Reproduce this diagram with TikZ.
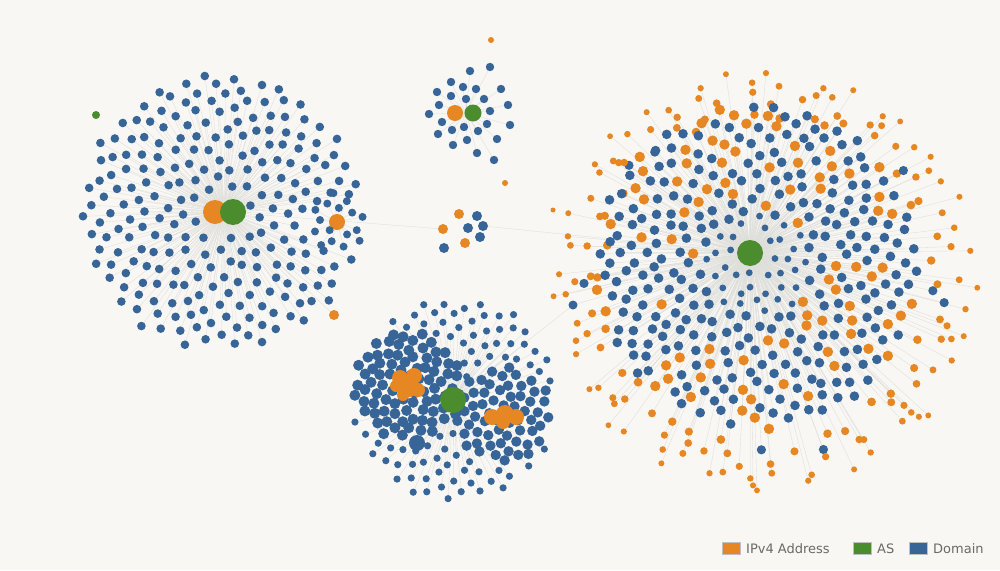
\documentclass[tikz,border=0pt]{standalone}
\usepackage{fontspec}
\setmainfont{DejaVu Sans}
\definecolor{bgc}{RGB}{248,247,243}
\definecolor{ipv}{RGB}{230,135,35}
\definecolor{asg}{RGB}{74,140,46}
\definecolor{dom}{RGB}{55,101,152}
\definecolor{edgec}{RGB}{222,222,218}
\definecolor{legtxt}{RGB}{105,105,105}
\tikzset{
  edgeline/.style={draw=edgec, line width=0.35pt},
  hub/.style={circle, inner sep=0pt},
  legbox/.style={draw=black!25, line width=0.4pt, minimum width=18pt, minimum height=12pt, inner sep=0pt},
  legtext/.style={text=legtxt, font=\fontsize{13}{15}\selectfont, anchor=base west, inner sep=0pt},
}
% #1 = 0 : edges, 1 : dots
\newcommand\clusterBouter[1]{%
  \pgfmathsetseed{11}%
  \foreach \n in {1,...,145}{
    \pgfmathsetmacro\rr{100*sqrt(2.6244+0.0128*\n)}
    \pgfmathsetmacro\ang{360*frac(\n*0.381966)+6*rand}
    \pgfmathsetmacro\px{765+\rr*cos(\ang)+2.5*rand}
    \pgfmathsetmacro\py{280+\rr*sin(\ang)+2.5*rand}
    \pgfmathsetmacro\dr{4.4-1.5*(\rr-162)/50}
    \pgfmathtruncatemacro\isor{(\rr>185)+(rnd<0.8)}
    \ifnum#1=0 \draw[edgeline] (hubB) -- (\px,\py);
    \else
      \ifnum\isor>0 \fill[ipv] (\px,\py) circle[radius=\dr pt];
      \else \fill[dom] (\px,\py) circle[radius=4.6pt];\fi
    \fi
  }}
\newcommand\clusterBinner[1]{%
  \pgfmathsetseed{12}%
  \foreach \n in {1,...,380}{
    \pgfmathsetmacro\rr{8.3*sqrt(\n)}
    \pgfmathsetmacro\ang{360*frac(\n*0.381966)}
    \pgfmathsetmacro\px{757+\rr*cos(\ang)+2.5*rand}
    \pgfmathsetmacro\py{266+\rr*sin(\ang)+2.5*rand}
    \pgfmathtruncatemacro\near{veclen((\px-750)/100,(\py-253)/100)<0.18}
    \pgfmathtruncatemacro\isor{(\rr>50)*(rnd<(0.2+0.1*(\rr-50)/112))}
    \ifnum\near=0
      \ifnum#1=0 \draw[edgeline] (hubB) -- (\px,\py);
      \else
        \ifdim\rr pt<52pt
          \fill[dom] (\px,\py) circle[radius=3.4pt];
        \else
          \ifnum\isor=1
            \fill[ipv] (\px,\py) circle[radius=5.2pt];
          \else
            \fill[dom] (\px,\py) circle[radius=4.8pt];
          \fi
        \fi
      \fi
    \fi
  }}
\newcommand\clusterA[1]{%
  \pgfmathsetseed{13}%
  \foreach \n in {1,...,250}{
    \pgfmathsetmacro\rr{8.8*sqrt(\n)}
    \pgfmathsetmacro\ang{360*frac(\n*0.381966)}
    \pgfmathsetmacro\px{221+\rr*cos(\ang)+2*rand}
    \pgfmathsetmacro\py{212+\rr*sin(\ang)+2*rand}
    \pgfmathtruncatemacro\near{(veclen((\px-224)/100,(\py-212)/100)<0.24)+(veclen((\px-337)/100,(\py-222)/100)<0.27)}
    \ifnum\near=0
      \ifnum#1=0 \draw[edgeline] (hubA) -- (\px,\py);
      \else \fill[dom] (\px,\py) circle[radius=4.3pt];\fi
    \fi
  }}
\newcommand\clusterAsub[1]{%
  \pgfmathsetseed{14}%
  \foreach \n in {1,...,16}{
    \pgfmathsetmacro\rr{5+6*sqrt(\n)}
    \pgfmathsetmacro\ang{360*frac(\n*0.381966)}
    \pgfmathsetmacro\px{337+\rr*cos(\ang)+rand}
    \pgfmathsetmacro\py{222+\rr*sin(\ang)+rand}
    \ifnum#1=0 \draw[edgeline] (hubA2) -- (\px,\py);
    \else \fill[dom] (\px,\py) circle[radius=4pt];\fi
  }}
\newcommand\clusterChalo[1]{%
  \pgfmathsetseed{15}%
  \foreach \n in {1,...,175}{
    \pgfmathsetmacro\rr{7.7*sqrt(\n)}
    \pgfmathsetmacro\ang{360*frac(\n*0.381966)}
    \pgfmathsetmacro\px{455+\rr*cos(\ang)+1.5*rand}
    \pgfmathsetmacro\py{400+\rr*sin(\ang)+1.5*rand}
    \pgfmathtruncatemacro\near{(veclen((\px-408)/100,(\py-385)/100)<0.57)+(veclen((\px-502)/100,(\py-415)/100)<0.51)+(veclen((\px-453)/100,(\py-400)/100)<0.16)}
    \ifnum\near=0
      \ifnum#1=0 \draw[edgeline] (hubC) -- (\px,\py);
      \else \fill[dom] (\px,\py) circle[radius=3.6pt];\fi
    \fi
  }}
\begin{document}
\begin{tikzpicture}[x=1pt,y=-1pt]
\fill[bgc] (0,0) rectangle (1000,570);
\useasboundingbox (0,0) rectangle (1000,570);

\coordinate (hubA) at (224,212);
\coordinate (hubA2) at (337,222);
\coordinate (hubB) at (750,253);
\coordinate (hubC) at (453,400);
\coordinate (hubD) at (466,113);
\coordinate (e1) at (443,229);
\coordinate (e2) at (483,226);
\coordinate (domYc) at (573,305);
\coordinate (ipXc) at (334,315);

% ---------------- edges ----------------
\clusterBouter{0}
\clusterBinner{0}
\clusterA{0}
\clusterAsub{0}
\clusterChalo{0}
\foreach \x/\y in {490/67, 470/71, 451/82, 437/92, 463/87, 476/89, 501/89, 451/96, 466/99, 484/99, 439/105, 508/105, 429/114, 490/111, 442/122, 487/124, 510/125, 452/130, 464/127, 478/131, 438/134, 497/139, 467/140, 453/145, 477/153, 494/160}{
  \draw[edgeline] (hubD) -- (\x,\y);
}
\draw[edgeline] (hubA) -- (e1);
\draw[edgeline] (e2) -- (hubB);
\draw[edgeline] (hubC) -- (domYc);
\draw[edgeline] (domYc) -- (hubB);
\draw[edgeline] (hubA) -- (ipXc);

% ---------------- right cluster ----------------
\clusterBouter{1}
\clusterBinner{1}
\node[hub, fill=asg, minimum size=26pt] (asB) at (hubB) {};

% ---------------- left cluster ----------------
\clusterA{1}
\node[hub, fill=ipv, minimum size=16pt] (ipA2) at (hubA2) {};
\clusterAsub{1}
\node[hub, fill=ipv, minimum size=24pt] (ipA) at (215,212) {};
\node[hub, fill=asg, minimum size=26pt] (asA) at (233,212) {};

% ---------------- bottom cluster ----------------
\clusterChalo{1}
\pgfmathsetseed{16}
\foreach \n in {1,...,85}{
  \pgfmathsetmacro\rr{5.9*sqrt(\n)}
  \pgfmathsetmacro\ang{360*frac(\n*0.381966)}
  \pgfmathsetmacro\px{408+\rr*cos(\ang)+1.5*rand}
  \pgfmathsetmacro\py{385+\rr*sin(\ang)+1.5*rand}
  \fill[dom] (\px,\py) circle[radius=5.5pt];
}
\foreach \n in {1,...,60}{
  \pgfmathsetmacro\rr{6.3*sqrt(\n)}
  \pgfmathsetmacro\ang{360*frac(\n*0.381966)}
  \pgfmathsetmacro\px{502+\rr*cos(\ang)+1.2*rand}
  \pgfmathsetmacro\py{415+\rr*sin(\ang)+1.2*rand}
  \fill[dom] (\px,\py) circle[radius=5.2pt];
}
\foreach \x/\y/\r in {400/378/8, 414/376/8, 409/388/9, 418/390/7, 403/395/6, 396/386/6}{
  \fill[ipv] (\x,\y) circle[radius=\r pt];
}
\foreach \x/\y/\r in {492/417/8, 505/414/9, 516/417/8, 503/422/7}{
  \fill[ipv] (\x,\y) circle[radius=\r pt];
}
\node[hub, fill=dom, minimum size=16pt] (bigdom) at (417,443) {};
\node[hub, fill=asg, minimum size=26pt] (asC) at (hubC) {};

% ---------------- top middle cluster ----------------
\foreach \x/\y in {490/67, 470/71, 451/82, 437/92, 463/87, 476/89, 501/89, 451/96, 466/99, 484/99, 439/105, 508/105, 429/114, 490/111, 442/122, 487/124, 510/125, 452/130, 464/127, 478/131, 438/134, 497/139, 467/140, 453/145, 477/153, 494/160}{
  \fill[dom] (\x,\y) circle[radius=4.2pt];
}
\node[hub, fill=ipv, minimum size=16pt] (ipD) at (455,113) {};
\node[hub, fill=asg, minimum size=17pt] (asD) at (473,113) {};
\node[hub, fill=ipv, minimum size=6pt] (ipD2) at (491,40) {};
\node[hub, fill=ipv, minimum size=6pt] (ipD3) at (505,183) {};

% ---------------- small middle cluster ----------------
\foreach \x/\y/\c in {459/214/ipv, 477/216/dom, 443/229/ipv, 468/228/dom, 483/226/dom, 480/237/dom, 465/243/ipv, 444/248/dom}{
  \fill[\c] (\x,\y) circle[radius=5pt];
}

% ---------------- isolated nodes ----------------
\node[hub, fill=asg, minimum size=8pt] (asX) at (96,115) {};
\node[hub, fill=ipv, minimum size=10pt] (ipX) at (ipXc) {};
\node[hub, fill=ipv, minimum size=5pt] (ipY) at (553,210) {};
\node[hub, fill=dom, minimum size=9pt] (domY) at (domYc) {};

% ---------------- legend ----------------
\node[legbox, fill=ipv] (lgip) at (731,548.5) {};
\node[legtext] (ltip) at (746,553) {IPv4 Address};
\node[legbox, fill=asg] (lgas) at (862,548.5) {};
\node[legtext] (ltas) at (877,553) {AS};
\node[legbox, fill=dom] (lgdom) at (918,548.5) {};
\node[legtext] (ltdom) at (933,553) {Domain};
\end{tikzpicture}
\end{document}
